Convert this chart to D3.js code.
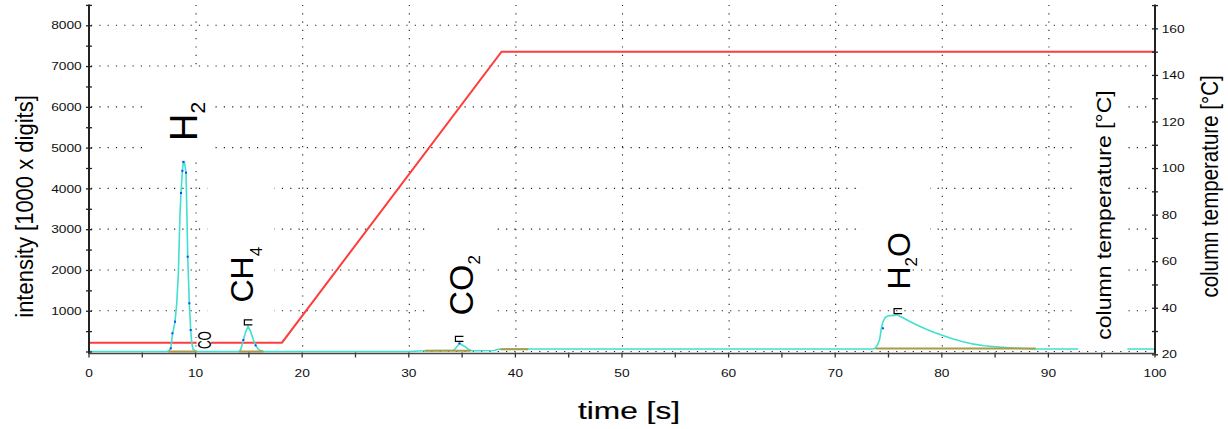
<!DOCTYPE html>
<html><head><meta charset="utf-8">
<script src="https://cdn.jsdelivr.net/npm/d3@7"></script>
<style>
html,body{margin:0;padding:0;background:#fff;}
svg{display:block;font-family:"Liberation Sans",Arial,sans-serif;}
</style>
</head><body>
<svg id="chart" width="1228" height="429"></svg>
<script>
// ---------------- data ----------------
const timeTicks = [0,10,20,30,40,50,60,70,80,90,100];
const intensityTicks = [1000,2000,3000,4000,5000,6000,7000,8000];
const temperatureTicks = [20,40,60,80,100,120,140,160];

// TCD signal (cyan), time [s] / intensity [1000 x digits]; null = no data
const signalTime = [0,7.3,7.5,7.67,7.82,8.07,8.23,8.38,8.54,8.63,8.76,8.85,8.95,9.1,9.17,9.26,9.41,9.54,9.64,9.76,9.95,10.2,
  14.1,14.25,14.48,14.7,14.92,15.17,15.42,15.63,15.9,16.2,16.4,
  30,31.5,34.2,34.4,34.75,35.28,35.6,35.9,36.5,38,38.4,40,
  73.5,73.76,74.0,74.17,74.33,74.48,74.7,75.0,75.5,75.8,76.4,77.0,77.67,78.5,79.3,80.1,81.0,82.0,83.0,84.0,85.0,86.0,87.06,88.6,90,92.8,
  95,97.4,100];
const signalIntensity = [0,0,20,78,400,731,1182,1900,3400,3887,4430,4650,4650,4380,3550,2325,1182,527,208,61,12,0,
  0,60,282,486,610,486,282,150,50,10,0,
  0,20,30,80,200,118,50,20,20,25,55,62,
  62,78,180,300,570,731,838,875,885,900,820,735,650,550,465,395,315,240,180,140,115,95,78,61,60,60,
  null,60,60];

// sample points marked in dark blue
const sampleTime = [7.67,7.82,8.07,8.63,8.76,8.85,9.1,9.26,9.41,9.54,14.48,15.63,34.75,74.48];
const sampleIntensity = [78,446,731,3887,4430,4650,4385,2325,1182,527,282,150,200,569];

// column temperature (red), time [s] / [°C]
const tempTime = [0,18.1,38.7,100];
const tempValue = [25,25,150,150];

// integration baselines (olive)
const baseStart = [7.44,14.1,31.5,38.6,73.8];
const baseEnd = [10.1,16.36,35.8,41.2,88.8];
const baseLevel = [0,0,20,55,72];

// peak labels
const peakMain = [["H"],["CH"],["CO"],["H","O"]];
const peakSub = ["2","4","2","2"];
const peakTime = [10.09,15.42,36.03,77.04];        // text anchor
const peakIntensity = [5162,1201,882,1520];
const peakTopTime = [null,14.95,34.75,75.9];         // small peak-top markers
const peakTopIntensity = [null,655,250,930];

// ---------------- layout ----------------
const svg = d3.select("#chart");
const x = d3.scaleLinear().domain([0,100]).range([89,1155]);
const yI = d3.scaleLinear().domain([0,8500]).range([351.5,4.9]);
const yT = d3.scaleLinear().domain([20,170]).range([354.3,5.1]);
const axisY = 353.5;

// grid
const grid = svg.append("g").attr("stroke","#222").attr("stroke-width",1.1)
  .attr("stroke-dasharray","1.2,7.1").attr("fill","none");
timeTicks.filter(t=>t>0 && t<100).forEach(t=>{
  grid.append("line").attr("x1",x(t)+0.5).attr("x2",x(t)+0.5).attr("y1",yI(8500)).attr("y2",yI(0));
});
[0].concat(intensityTicks).forEach(v=>{
  grid.append("line").attr("x1",x(0)+2).attr("x2",x(100)-2).attr("y1",yI(v)).attr("y2",yI(v));
});

// white label boxes (hide the grid behind labels)
const boxes = [
  [5.3,11.6,4700,6950],
  [11.1,17.4,800,4350],
  [31.5,38.1,500,3500],
  [72.6,78.9,2200,4500],
  [92.4,97.4,30,6900]
];
boxes.forEach(b=>{
  svg.append("rect").attr("x",x(b[0])).attr("width",x(b[1])-x(b[0]))
    .attr("y",yI(b[3])).attr("height",yI(b[2])-yI(b[3])).attr("fill","#fff");
});

// temperature line
const tempData = tempTime.map((t,i)=>[t,tempValue[i]]);
svg.append("path").datum(tempData)
  .attr("d",d3.line().x(d=>x(d[0])).y(d=>yT(d[1])))
  .attr("fill","none").attr("stroke","#ff3c3c").attr("stroke-width",2);

// signal line
const sigData = signalTime.map((t,i)=>[t,signalIntensity[i]]);
svg.append("path").datum(sigData)
  .attr("d",d3.line().defined(d=>d[1]!=null).x(d=>x(d[0])).y(d=>yI(d[1])))
  .attr("fill","none").attr("stroke","#40e0d0").attr("stroke-width",1.6);

// baselines
baseStart.forEach((s,i)=>{
  svg.append("line").attr("x1",x(s)).attr("x2",x(baseEnd[i]))
    .attr("y1",yI(baseLevel[i])).attr("y2",yI(baseLevel[i]))
    .attr("stroke","#a89c45").attr("stroke-width",2);
});

// sample dots
sampleTime.forEach((t,i)=>{
  svg.append("rect").attr("x",x(t)-1).attr("y",yI(sampleIntensity[i])-1)
    .attr("width",2).attr("height",2).attr("fill","#2040ff");
});

// peak-top markers
peakTopTime.forEach((t,i)=>{
  if(t==null) return;
  const cx = x(t), cy = yI(peakTopIntensity[i]);
  svg.append("path").attr("d",`M${cx+4},${cy-5}H${cx-4}V${cy}H${cx+4}`)
    .attr("fill","none").attr("stroke","#000").attr("stroke-width",1.2);
});

// peak labels
const mainSize = [38,32,34,32], subSize=[21,17,17,17], subShift=[8.5,8.4,7,6.7];
peakMain.forEach((parts,i)=>{
  const t = svg.append("text")
    .attr("transform",`translate(${x(peakTime[i])},${yI(peakIntensity[i])}) rotate(-90)`)
    .attr("fill","#000");
  t.append("tspan").attr("font-size",mainSize[i]).text(parts[0]);
  t.append("tspan").attr("font-size",subSize[i]).attr("dy",subShift[i]).text(peakSub[i]);
  if(parts.length>1) t.append("tspan").attr("font-size",mainSize[i]).attr("dy",-subShift[i]).text(parts[1]);
});

// small "CO" label
svg.append("rect").attr("x",x(10.1)).attr("width",x(11.45)-x(10.1))
  .attr("y",yI(530)).attr("height",yI(60)-yI(530)).attr("fill","#fff");
svg.append("text").attr("transform",`translate(${x(11.4)},${yI(60)}) scale(1.5,1) rotate(-90)`)
  .attr("font-size",12).text("CO");

// ---------------- axes ----------------
const tickScale = 1.25;
// left axis
const gL = svg.append("g").attr("transform",`translate(${x(0)},0)`)
  .call(d3.axisLeft(yI).tickValues(d3.range(0,8501,500)).tickSize(0)
    .tickFormat(d=> intensityTicks.includes(d) ? d : ""));
gL.select(".domain").remove();
gL.selectAll(".tick line").attr("x1",-3).attr("x2",3).attr("stroke","#222").attr("stroke-width",1.3);
gL.selectAll(".tick text").attr("x",-7.3/tickScale).attr("dy","0.33em")
  .attr("transform",`scale(${tickScale},1)`).attr("font-size",11)
  .attr("font-family","Liberation Sans, Arial, sans-serif").attr("fill","#111");
svg.append("line").attr("x1",x(0)).attr("x2",x(0)).attr("y1",4.5).attr("y2",axisY+0.5)
  .attr("stroke","#222").attr("stroke-width",2);

// right axis
const gR = svg.append("g").attr("transform",`translate(${x(100)},0)`)
  .call(d3.axisRight(yT).tickValues(d3.range(20,171,10)).tickSize(0)
    .tickFormat(d=> temperatureTicks.includes(d) ? d : ""));
gR.select(".domain").remove();
gR.selectAll(".tick line").attr("x1",-3).attr("x2",3).attr("stroke","#222").attr("stroke-width",1.3);
gR.selectAll(".tick text").attr("x",6.7/tickScale).attr("dy","0.33em")
  .attr("transform",`scale(${tickScale},1)`).attr("font-size",11)
  .attr("font-family","Liberation Sans, Arial, sans-serif").attr("fill","#111");
svg.append("line").attr("x1",x(100)).attr("x2",x(100)).attr("y1",4.5).attr("y2",axisY+1)
  .attr("stroke","#222").attr("stroke-width",2);

// bottom axis
const gB = svg.append("g").attr("transform",`translate(0,${axisY})`)
  .call(d3.axisBottom(x).tickValues(d3.range(0,101,5)).tickSize(0)
    .tickFormat(d=> timeTicks.includes(d) ? d : ""));
gB.select(".domain").remove();
gB.selectAll(".tick line").attr("y1",-1).attr("y2",4).attr("stroke","#333").attr("stroke-width",1.3);
gB.selectAll(".tick text").attr("y",23.4).attr("dy",0)
  .attr("transform",`scale(${tickScale},1)`)
  .each(function(d){ d3.select(this.parentNode).attr("transform",`translate(${x(d)},0)`); })
  .attr("font-size",11).attr("font-family","Liberation Sans, Arial, sans-serif").attr("fill","#111");
svg.append("line").attr("x1",x(0)).attr("x2",x(100)).attr("y1",axisY).attr("y2",axisY)
  .attr("stroke","#444").attr("stroke-width",1.6);

// axis titles
svg.append("text").attr("transform","translate(32.9,206.5) scale(1.11,1) rotate(-90)")
  .attr("text-anchor","middle").attr("font-size",22).attr("fill","#000")
  .text("intensity [1000 x digits]");
svg.append("text").attr("transform","translate(1218.1,186.5) scale(1.2,1) rotate(-90)")
  .attr("text-anchor","middle").attr("font-size",20.5).attr("fill","#000")
  .text("column temperature [°C]");
svg.append("text").attr("transform","translate(1110.9,215) scale(0.85,1) rotate(-90)")
  .attr("text-anchor","middle").attr("font-size",23).attr("fill","#000")
  .text("column temperature [°C]");
svg.append("text").attr("transform","translate(629,419) scale(1.32,1)")
  .attr("text-anchor","middle").attr("font-size",24).attr("fill","#000")
  .attr("stroke","#000").attr("stroke-width",0.2)
  .text("time [s]");
</script>
</body></html>
